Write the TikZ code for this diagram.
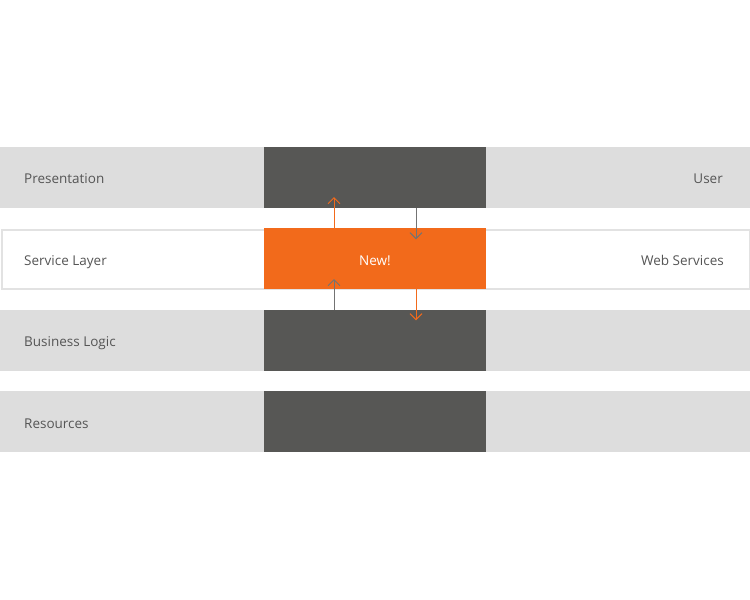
\documentclass[tikz,border=0pt]{standalone}
\usepackage{fontspec}
\setmainfont{Open Sans}
\usetikzlibrary{arrows.meta}
\definecolor{lightg}{HTML}{DDDDDD}
\definecolor{darkg}{HTML}{575755}
\definecolor{orng}{HTML}{F26A1B}
\definecolor{txt}{HTML}{555555}
\definecolor{bord}{HTML}{E2E2E2}
\begin{document}
\begin{tikzpicture}[x=1pt,y=-1pt,
  rowbox/.style={fill=lightg, draw=none, minimum width=750pt, minimum height=61pt, inner sep=0pt, anchor=north west},
  whiterow/.style={fill=white, draw=bord, line width=2pt, minimum width=748pt, minimum height=59pt, inner sep=0pt, anchor=north west},
  midbox/.style={fill=darkg, draw=none, minimum width=222pt, minimum height=61pt, inner sep=0pt, anchor=north west},
  newbox/.style={fill=orng, draw=none, minimum width=222pt, minimum height=61pt, inner sep=0pt, anchor=north west},
  lbl/.style={text=txt, font=\fontsize{13.5}{16}\selectfont, inner sep=0pt},
  garrow/.style={draw=gray!90!black, line width=1pt, -{Straight Barb[length=6pt,width=12pt,line width=1pt]}},
  oarrow/.style={draw=orng, line width=1pt, -{Straight Barb[length=6pt,width=12pt,line width=1pt]}}
]
\useasboundingbox (0,0) rectangle (750,600);
\fill[white] (0,0) rectangle (750,600);
% rows
\node[rowbox] (r1) at (0,147) {};
\node[whiterow] (r2) at (1,229) {};
\node[rowbox] (r3) at (0,310) {};
\node[rowbox] (r4) at (0,391) {};
% middle boxes
\node[midbox] (m1) at (264,147) {};
\node[newbox] (new) at (264,228) {};
\node[midbox] (m3) at (264,310) {};
\node[midbox] (m4) at (264,391) {};
% labels
\node[lbl, anchor=base west] (l1) at (24,183) {Presentation};
\node[lbl, anchor=base west] (l2) at (24,265) {Service Layer};
\node[lbl, anchor=base west] (l3) at (24,346) {Business Logic};
\node[lbl, anchor=base west] (l4) at (24,428) {Resources};
\node[lbl, anchor=base east] (rl1) at (723,183) {User};
\node[lbl, anchor=base east] (rl2) at (724,265) {Web Services};
\node[lbl, anchor=base, text=white] (nl) at (375,265) {New!};
% arrow columns
\coordinate (xa) at (334,0);
\coordinate (xb) at (416,0);
\draw[oarrow] (new.north -| xa) -- ++(0,-31);
\draw[garrow] (m1.south -| xb) -- ++(0,31);
\draw[garrow] (m3.north -| xa) -- ++(0,-31);
\draw[oarrow] (new.south -| xb) -- ++(0,31);
\end{tikzpicture}
\end{document}
